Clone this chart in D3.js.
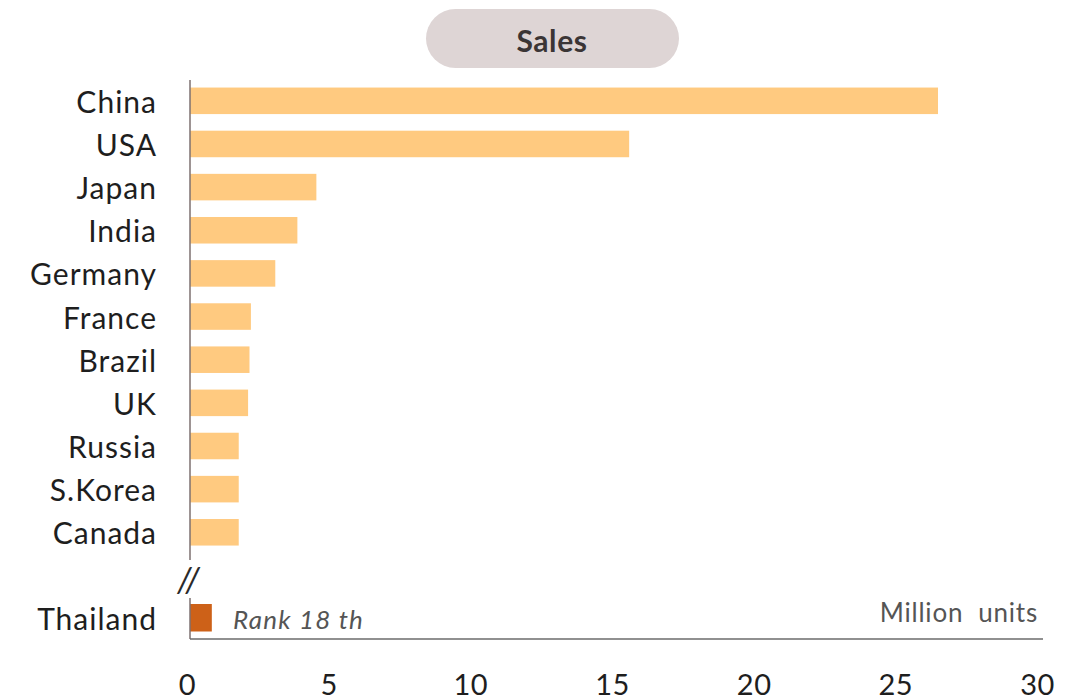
<!DOCTYPE html>
<html>
<head>
<meta charset="utf-8">
<script src="https://cdn.jsdelivr.net/npm/d3@7"></script>
<style>
  html, body { margin: 0; padding: 0; background: #ffffff; }
  svg { display: block; }
</style>
</head>
<body>
<svg id="chart" width="1081" height="700"></svg>
<script>
// ---- data ----
const categories = ["China", "USA", "Japan", "India", "Germany", "France", "Brazil", "UK", "Russia", "S.Korea", "Canada"];
const salesValues = [26.4, 15.5, 4.46, 3.79, 3.01, 2.15, 2.1, 2.05, 1.72, 1.72, 1.72];
const highlightCategories = ["Thailand"];
const highlightValues = [0.77];
const rankText = "Rank 18 th";
const unitText = "Million  units";
const titleText = "Sales";
const tickValues = [0, 5, 10, 15, 20, 25, 30];

// ---- drawing ----
const svg = d3.select("#chart");
const FONT = "Lato, 'Open Sans', sans-serif";

const x = d3.scaleLinear().domain([0, 30]).range([190, 1040]);
const y = d3.scaleBand().domain(categories).range([74.6, 558.5]).paddingInner(0.385).paddingOuter(0.3);
const y2 = d3.scaleBand().domain(highlightCategories).range([604, 631.5]);

// title pill
const title = svg.append("g");
title.append("rect")
  .attr("x", 426).attr("y", 9).attr("width", 253).attr("height", 59)
  .attr("rx", 29.5).attr("ry", 29.5)
  .attr("fill", "#ded5d5");
title.append("text")
  .attr("x", 552).attr("y", 40)
  .attr("text-anchor", "middle").attr("dominant-baseline", "central")
  .attr("font-family", FONT).attr("font-weight", "bold").attr("font-size", 30)
  .attr("letter-spacing", 0.6)
  .attr("fill", "#3b3535")
  .text(titleText);

// main bars
svg.append("g").selectAll("rect")
  .data(categories)
  .join("rect")
  .attr("x", x(0))
  .attr("y", d => y(d))
  .attr("width", (d, i) => x(salesValues[i]) - x(0))
  .attr("height", y.bandwidth())
  .attr("fill", "#ffca80");

// highlight bar
svg.append("g").selectAll("rect")
  .data(highlightCategories)
  .join("rect")
  .attr("x", x(0))
  .attr("y", d => y2(d))
  .attr("width", (d, i) => x(highlightValues[i]) - x(0))
  .attr("height", y2.bandwidth())
  .attr("fill", "#cd6118");

// category labels
function labelStyle(sel) {
  sel.attr("text-anchor", "end").attr("dominant-baseline", "central")
    .attr("font-family", FONT).attr("font-size", 30)
    .attr("letter-spacing", 1)
    .attr("fill", "#1e1e1e");
}
svg.append("g").selectAll("text")
  .data(categories)
  .join("text")
  .attr("x", 157)
  .attr("y", d => y(d) + y.bandwidth() / 2)
  .call(labelStyle)
  .text(d => d);

svg.append("g").selectAll("text")
  .data(highlightCategories)
  .join("text")
  .attr("x", 157)
  .attr("y", d => y2(d) + y2.bandwidth() / 2)
  .call(labelStyle)
  .text(d => d);

// vertical axis segments
svg.append("line")
  .attr("x1", x(0)).attr("x2", x(0)).attr("y1", 80).attr("y2", 560)
  .attr("stroke", "#7d7070").attr("stroke-width", 1.5);
svg.append("line")
  .attr("x1", x(0)).attr("x2", x(0)).attr("y1", 598).attr("y2", 639)
  .attr("stroke", "#7d7070").attr("stroke-width", 1.5);

// break mark
svg.append("text")
  .attr("x", 189).attr("y", 578)
  .attr("text-anchor", "middle").attr("dominant-baseline", "central")
  .attr("font-family", FONT).attr("font-style", "italic").attr("font-size", 34)
  .attr("letter-spacing", 1)
  .attr("fill", "#2a2a2a")
  .text("//");

// x axis
const xAxis = d3.axisBottom(x).tickValues(tickValues).tickSize(0).tickPadding(35).tickFormat(d3.format("d"));
const gx = svg.append("g").attr("transform", "translate(0,639)").call(xAxis);
gx.select(".domain").attr("stroke", "#6b6b6b").attr("stroke-width", 1.5)
  .attr("d", `M${x(0)},0H1043`);
gx.selectAll(".tick text")
  .attr("dx", -3)
  .attr("font-family", FONT).attr("font-size", 29)
  .attr("letter-spacing", 0.5)
  .attr("fill", "#1e1e1e");

// annotations
svg.append("text")
  .attr("x", 233).attr("y", y2(highlightCategories[0]) + y2.bandwidth() / 2 + 1)
  .attr("dominant-baseline", "central")
  .attr("font-family", FONT).attr("font-style", "italic").attr("font-size", 26)
  .attr("letter-spacing", 1.2)
  .attr("fill", "#555")
  .text(rankText);

svg.append("text")
  .attr("x", 1038).attr("y", 612)
  .attr("text-anchor", "end").attr("dominant-baseline", "central")
  .attr("font-family", FONT).attr("font-size", 26)
  .attr("letter-spacing", 0.8)
  .attr("fill", "#555")
  .style("white-space", "pre")
  .text(unitText);
</script>
</body>
</html>
